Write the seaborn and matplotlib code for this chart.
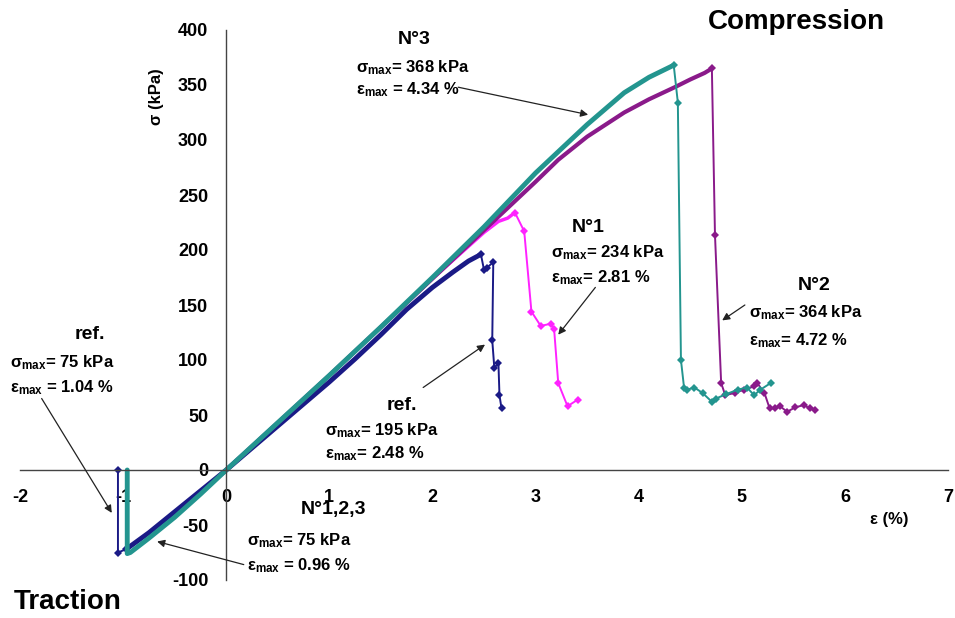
import matplotlib
matplotlib.use("Agg")
import matplotlib.pyplot as plt
import seaborn as sns

# strain (%) / stress (kPa)
# ref. (navy)
ref_load_eps = [-0.97, -0.75, -0.5, -0.25, 0, 0.25, 0.5, 0.75, 1.0, 1.25, 1.5, 1.75, 2.0, 2.2, 2.35, 2.47]
ref_load_sig = [-72, -57, -38, -19, 0, 20, 40, 60, 80, 101, 123, 146, 166, 180, 190, 196]
ref_fail_eps = [2.47, 2.50, 2.53, 2.59, 2.58, 2.60, 2.64, 2.65, 2.67]
ref_fail_sig = [196, 182, 184, 189, 118, 93, 97, 68, 56]
ref_trac_eps = [-0.97, -1.05, -1.05]
ref_trac_sig = [-72, -75, 0]

# N°1 (magenta)
n1_load_eps = [0, 0.5, 1.0, 1.5, 2.0, 2.5, 2.64, 2.73, 2.80]
n1_load_sig = [0, 43, 86, 130, 174, 216, 226, 229, 234]
n1_fail_eps = [2.80, 2.89, 2.96, 3.05, 3.15, 3.18, 3.22, 3.31, 3.41]
n1_fail_sig = [234, 217, 144, 131, 133, 128, 79, 58, 64]

# N°2 (purple)
n2_load_eps = [0, 0.5, 1.0, 1.5, 2.0, 2.5, 3.0, 3.22, 3.5, 3.86, 4.1, 4.35, 4.5, 4.64, 4.71]
n2_load_sig = [0, 43, 86, 130, 174, 218, 262, 282, 303, 325, 337, 348, 355, 361, 365]
n2_fail_eps = [4.71, 4.74, 4.80, 4.84, 4.93, 5.02, 5.12, 5.15, 5.22, 5.27, 5.32, 5.37, 5.44, 5.52, 5.60, 5.66, 5.71]
n2_fail_sig = [365, 214, 79, 68, 70, 73, 76, 79, 70, 56, 56, 58, 53, 57, 59, 56, 55]

# N°3 (teal), incl. traction branch of N°1,2,3
n3_load_eps = [-0.96, -0.96, -0.93, -0.75, -0.5, -0.25, 0, 0.5, 1.0, 1.5, 2.0, 2.5, 3.0, 3.5, 3.86, 4.1, 4.34]
n3_load_sig = [0, -76, -75, -62, -43, -22, 0, 43, 86, 130, 175, 221, 270, 314, 343, 357, 368]
n3_fail_eps = [4.34, 4.38, 4.41, 4.44, 4.47, 4.54, 4.62, 4.71, 4.75, 4.85, 4.96, 5.05, 5.12, 5.18, 5.28]
n3_fail_sig = [368, 334, 100, 75, 73, 75, 70, 62, 65, 69, 73, 75, 68, 73, 79]

NAVY = '#1a1a86'
MAGENTA = '#ff22ff'
PURPLE = '#8a1a8a'
TEAL = '#23958f'

sns.set_style('white')
plt.rcParams['font.family'] = ['Liberation Sans', 'DejaVu Sans']
plt.rcParams['font.weight'] = 'bold'
plt.rcParams['text.color'] = 'black'
plt.rcParams['xtick.color'] = 'black'
plt.rcParams['ytick.color'] = 'black'
plt.rcParams['axes.unicode_minus'] = False
plt.rcParams['mathtext.fontset'] = 'custom'
plt.rcParams['mathtext.rm'] = 'Liberation Sans:bold'
plt.rcParams['mathtext.it'] = 'Liberation Sans:bold'
plt.rcParams['mathtext.bf'] = 'Liberation Sans:bold'

fig = plt.figure(figsize=(9.55, 6.18), dpi=100)
ax = fig.add_axes([20 / 955, 1 - 580 / 618, 928 / 955, 550 / 618])


def curve(x, y, color, lw, marker=None):
    sns.lineplot(x=x, y=y, sort=False, estimator=None, color=color, lw=lw,
                 marker=marker, markersize=4.5, markeredgewidth=0, ax=ax)


curve(ref_load_eps, ref_load_sig, NAVY, 3.5)
curve(ref_trac_eps, ref_trac_sig, NAVY, 1.4, 'D')
curve(ref_fail_eps, ref_fail_sig, NAVY, 1.4, 'D')
curve(n1_load_eps, n1_load_sig, MAGENTA, 2.5)
curve(n1_fail_eps, n1_fail_sig, MAGENTA, 1.4, 'D')
curve(n2_load_eps, n2_load_sig, PURPLE, 3.0)
curve(n2_fail_eps, n2_fail_sig, PURPLE, 1.4, 'D')
curve(n3_load_eps, n3_load_sig, TEAL, 3.5)
curve(n3_fail_eps, n3_fail_sig, TEAL, 1.4, 'D')

ax.set_xlim(-2, 7)
ax.set_ylim(-100, 400)
ax.set_xticks(range(-2, 8))
ax.set_yticks(range(-100, 401, 50))
ax.set_xlabel('')
ax.set_ylabel('')
for s in ['top', 'right']:
    ax.spines[s].set_visible(False)
ax.spines['left'].set_position(('data', 0))
ax.spines['bottom'].set_position(('data', 0))
for s in ['left', 'bottom']:
    ax.spines[s].set_color('#444444')
    ax.spines[s].set_linewidth(1.0)
ax.tick_params(axis='both', direction='out', length=5, width=1, color='#444444',
               labelcolor='black', labelsize=13)
ax.tick_params(axis='x', pad=9)
ax.tick_params(axis='y', pad=8)

ax.text(-0.68, 339, 'σ (kPa)', rotation=90, ha='center', va='center', fontsize=12)
ax.text(6.43, -45, 'ε (%)', ha='center', va='center', fontsize=12)
ax.text(4.67, 407, 'Compression', ha='left', va='center', fontsize=20)
ax.text(-2.06, -120, 'Traction', ha='left', va='center', fontsize=20)

labels = [
    ('N°3', 1.82, 391, 1.26, 366, 346, '368', '4.34', ' '),
    ('N°1', 3.51, 220, 3.15, 198, 175, '234', '2.81', ''),
    ('N°2', 5.70, 168, 5.07, 143, 118, '364', '4.72', ''),
    ('ref.', 1.70, 59, 0.957, 36, 15, '195', '2.48', ''),
    ('ref.', -1.32, 123, -2.10, 98, 75, '75', '1.04', ' '),
    ('N°1,2,3', 1.04, -36, 0.20, -64, -87, '75', '0.96', ' '),
]
for title, tx, ty, lx, sy, ey, smax, emax, gap in labels:
    ax.text(tx, ty, title, ha='center', va='center', fontsize=14)
    ax.text(lx, sy, 'σ$_{\\mathrm{max}}$= ' + smax + ' kPa', ha='left', va='center', fontsize=12)
    ax.text(lx, ey, 'ε$_{\\mathrm{max}}$' + gap + '= ' + emax + ' %', ha='left', va='center', fontsize=12)

arrows = [
    ((2.25, 348), (3.51, 323)),
    ((3.58, 166), (3.22, 123)),
    ((1.91, 75), (2.51, 114)),
    ((5.03, 150), (4.81, 136)),
    ((-1.79, 65), (-1.11, -39)),
    ((0.17, -86), (-0.67, -65)),
]
for start, end in arrows:
    ax.annotate('', xy=end, xytext=start,
                arrowprops=dict(arrowstyle='-|>', color='#222222', lw=0.9,
                                mutation_scale=11, shrinkA=0, shrinkB=0))

fig.savefig('out.png', dpi=100)
